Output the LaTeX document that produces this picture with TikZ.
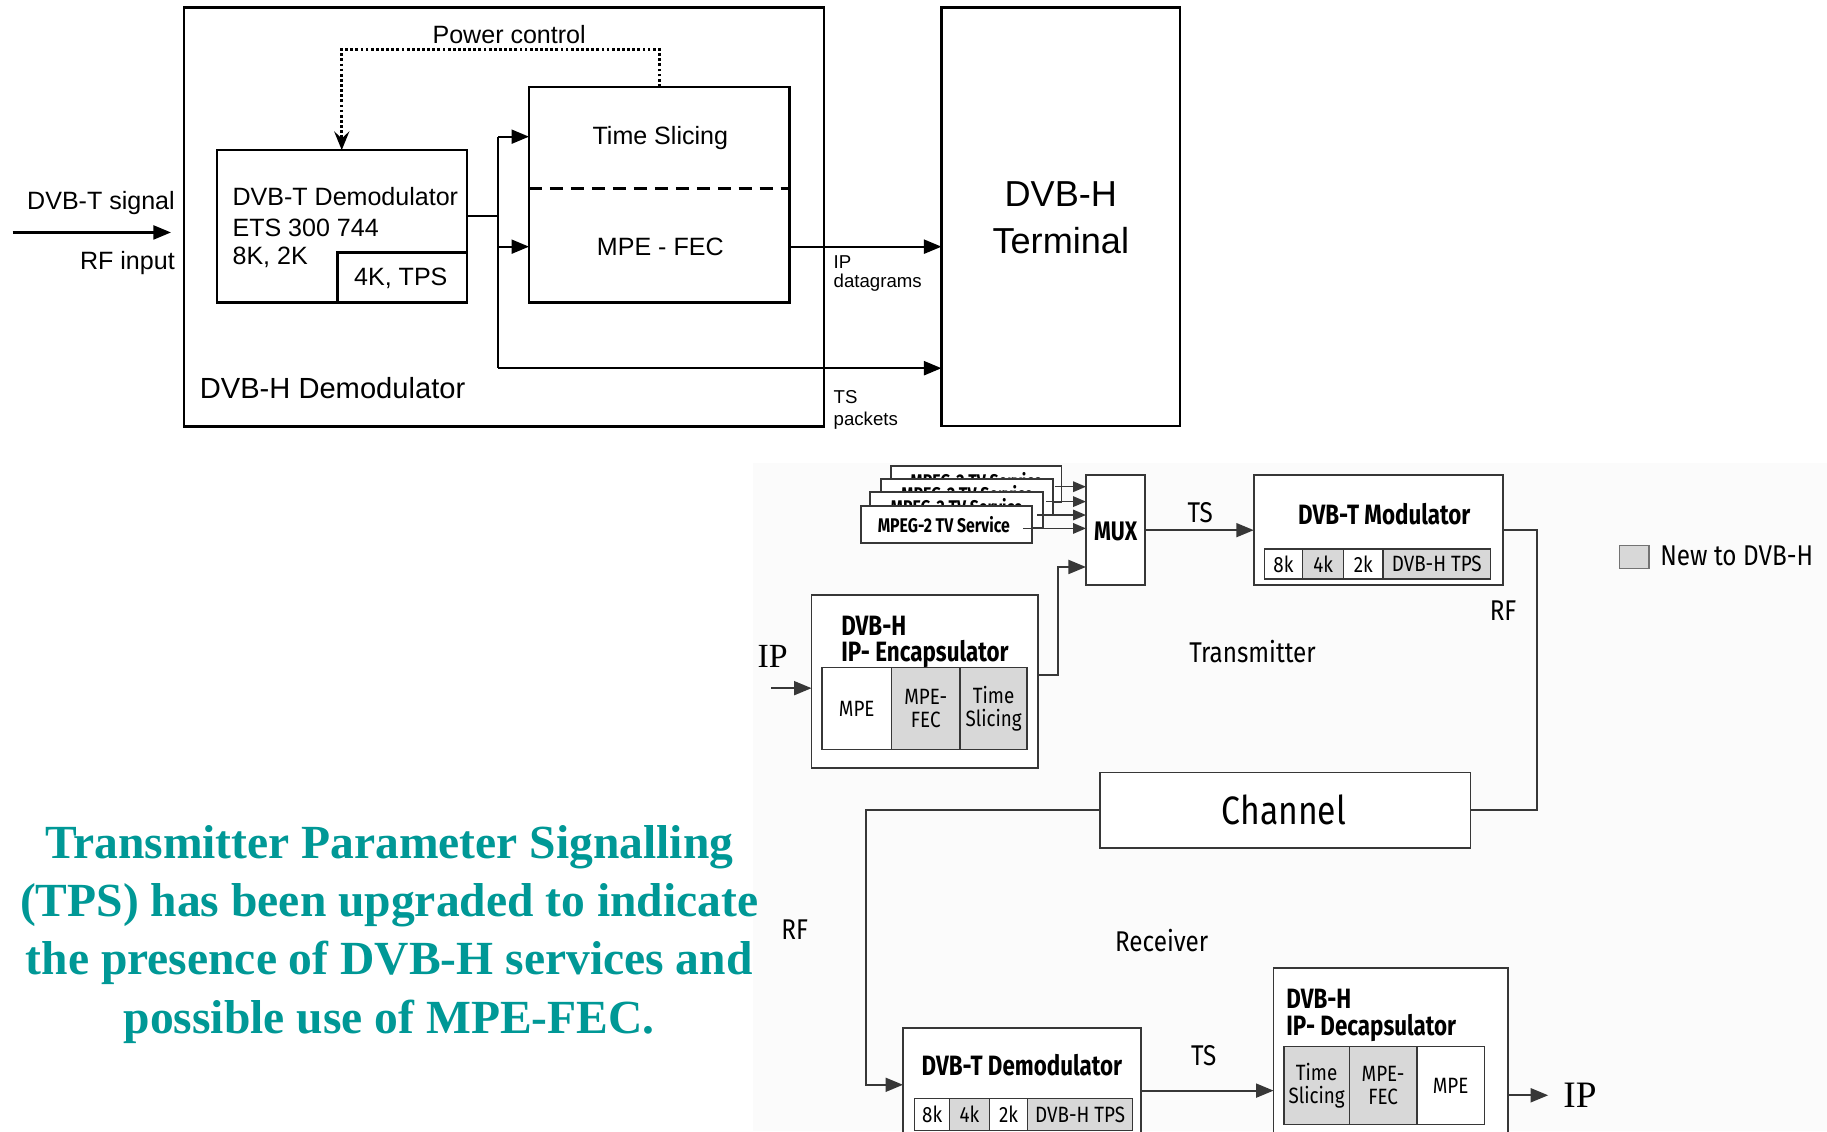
\documentclass[tikz,border=0pt]{standalone}
\usepackage{fontspec}
\setmainfont{Liberation Sans}
\newfontfamily\nokr[FakeStretch=0.85]{Fira Sans}
\newfontfamily\nokb[FakeStretch=0.8]{Fira Sans}
\newfontfamily\ipserif{Liberation Serif}
\usetikzlibrary{arrows.meta,fit,calc}
\definecolor{tpsteal}{RGB}{0,152,150}
\definecolor{bgpale}{RGB}{251,251,251}
\definecolor{cellgray}{RGB}{216,216,216}
\definecolor{lowline}{RGB}{55,55,55}
\begin{document}
\begin{tikzpicture}[x=1pt,y=-1pt,
  every node/.style={inner sep=0pt, outer sep=0pt},
  tline/.style={line width=1.8pt},
  tbox/.style={draw, line width=2pt},
  tarr/.style={tline, -{Triangle[length=15pt,width=12pt]}},
  ttext/.style={font=\fontsize{21.5}{26}\selectfont},
  tsmall/.style={font=\fontsize{16}{19}\selectfont},
  lline/.style={draw=lowline, line width=1.6pt},
  larr/.style={lline, -{Triangle[length=15pt,width=12pt]}},
  sarr/.style={lline, line width=1.3pt, -{Triangle[length=11pt,width=9pt]}},
  lbox/.style={draw=lowline, line width=1.6pt, fill=white},
  cellw/.style={draw=lowline, line width=1.2pt, fill=white},
  cellg/.style={draw=lowline, line width=1.2pt, fill=cellgray},
  ctext/.style={font=\nokr\fontsize{19}{20}\selectfont, align=center},
  ltitle/.style={font=\nokb\bfseries\fontsize{24}{27}\selectfont},
  lreg/.style={font=\nokr\fontsize{24.5}{28}\selectfont},
  mpegf/.style={font=\nokb\bfseries\fontsize{17}{19}\selectfont},
  tpsf/.style={font=\ipserif\bfseries\fontsize{40.8}{50}\selectfont, text=tpsteal},
]
\useasboundingbox (0,0) rectangle (1568,971);
\clip (0,0) rectangle (1568,971);
\fill[white] (0,0) rectangle (1568,971);
\fill[bgpale] (646,397) rectangle (1568,971);

% ---------------- top diagram ----------------
\node[tbox, fit={(157.7,6.3) (707,366)}] (outer) {};
\node[tbox, fit={(186,128.8) (400.6,259.5)}] (demod) {};
\node[tbox, fit={(289.7,216.6) (400.6,259.5)}] (tpsk) {};
\node[ttext] (tpskt) at (344,238.5) {4K, TPS};
\node[ttext, anchor=west] (dt1) at (199.6,168.8) {DVB-T Demodulator};
\node[ttext, anchor=west] (dt2) at (199.6,195.4) {ETS 300 744};
\node[ttext, anchor=west] (dt3) at (199.6,221.2) {8K, 2K};
\node[tbox, fit={(454,74.4) (677.5,259.5)}] (tsl) {};
\node[ttext] (tslt) at (566.7,118.7) {Time Slicing};
\node[ttext] (mfec) at (566.7,211.7) {MPE - FEC};
\draw[line width=2.2pt, dash pattern=on 11pt off 7pt] (tsl.west |- 0,161.6) -- (tsl.east |- 0,161.6);
\node[tbox, fit={(808,6.3) (1012.8,365.6)}] (term) {};
\node[font=\fontsize{31}{40}\selectfont, align=center] (termt) at (910.4,187) {DVB-H\\Terminal};

\draw[line width=2.4pt, dash pattern=on 2.4pt off 2pt, -{Stealth[length=16pt,width=13pt,inset=6pt]}]
  (tsl.north) -- (tsl.north |- 0,42.3) -| (demod.north);
\node[ttext] (pc) at (437,30) {Power control};

\coordinate (j1) at (427.6,185.4);
\coordinate (jt) at (427.6,117.3);
\coordinate (jm) at (427.6,211.7);
\coordinate (jb) at (427.6,316);
\draw[tline] (demod.east |- j1) -- (j1);
\draw[tline] (jt) -- (jb);
\draw[tarr] (jt) -- (tsl.west |- jt);
\draw[tarr] (jm) -- (tsl.west |- jm);
\draw[tarr] (jb) -- (term.west |- jb);
\draw[tarr] (tsl.east |- mfec) -- (term.west |- mfec);

\coordinate (rfin) at (10.8,199.5);
\draw[tarr, shorten >=11pt] (rfin) -- (outer.west |- rfin);
\node[ttext, anchor=east] (sig) at (150,174.5) {DVB-T signal};
\node[ttext, anchor=east] (rfi) at (150,226) {RF input};
\node[tsmall, anchor=west] (ipl) at (715.5,224.6) {IP};
\node[tsmall, anchor=west] (dgl) at (715.5,243) {datagrams};
\node[tsmall, anchor=west] (tsl1) at (715.5,341) {TS};
\node[tsmall, anchor=west] (tsl2) at (715.5,361) {packets};
\node[font=\fontsize{25}{30}\selectfont, anchor=west] (dhd) at (171.5,333) {DVB-H Demodulator};

% ---------------- lower diagram ----------------
\node[lbox, fit={(932,408) (983,502)}] (mux) {};
\node[font=\nokb\bfseries\fontsize{23}{26}\selectfont] (muxt) at (957.5,456) {MUX};

\node[lbox, fit={(765,400) (911,431)}] (mp4) {};
\node[mpegf] (mp4t) at (838,412.5) {MPEG-2 TV Service};
\node[lbox, fit={(756,411) (904,442)}] (mp3) {};
\node[mpegf] (mp3t) at (830,423.5) {MPEG-2 TV Service};
\node[lbox, fit={(747,422) (895,453)}] (mp2) {};
\node[mpegf] (mp2t) at (821,435) {MPEG-2 TV Service};
\node[lbox, fit={(739,434) (886,466)}] (mp1) {};
\node[mpegf] (mp1t) at (810,450) {MPEG-2 TV Service};
\coordinate (s4) at (905,417.7);
\coordinate (s3) at (898,430.5);
\coordinate (s2) at (890,442);
\coordinate (s1) at (878,453.5);
\draw[sarr] (s4) -- (mux.west |- s4);
\draw[sarr] (s3) -- (mux.west |- s3);
\draw[sarr] (s2) -- (mux.west |- s2);
\draw[sarr] (s1) -- (mux.west |- s1);

\node[lbox, fit={(1076,408) (1290,502)}] (mod) {};
\node[ltitle] (modt) at (1188,441) {DVB-T Modulator};
\node[cellw, fit={(1085,471) (1118,497)}] (m8) {};
\node[cellg, fit={(1118,471) (1153,497)}] (m4) {};
\node[cellw, fit={(1153,471) (1187,497)}] (m2) {};
\node[cellg, fit={(1187,471) (1279,497)}] (mt) {};
\node[ctext] (m8t) at (m8.center) {8k};
\node[ctext] (m4t) at (m4.center) {4k};
\node[ctext] (m2t) at (m2.center) {2k};
\node[ctext] (mtt) at (mt.center) {DVB-H TPS};
\draw[larr] (mux.east) -- (mod.west);
\node[lreg] (tsa) at (1030,440) {TS};

\node[lbox, fit={(944,663) (1262,728)}] (chan) {};
\node[font=\nokr\fontsize{34}{36}\selectfont] (chant) at (1102,695) {Channel};
\coordinate (rf1) at (1319,600);
\draw[lline] (mod.east) -| (rf1) |- (chan.east);
\node[lreg] (rfa) at (1290,524) {RF};

\node[draw=black!55, line width=1.3pt, fill=cellgray, fit={(1390,468) (1415,488)}] (leg) {};
\node[lreg, anchor=west] (legt) at (1425,477) {New to DVB-H};
\node[lreg] (trx) at (1075,559) {Transmitter};

% encapsulator
\node[lbox, fit={(696.5,511) (891,659)}] (enc) {};
\node[ltitle, anchor=base west] (enct1) at (722,545) {DVB-H};
\node[ltitle, anchor=base west] (enct2) at (722,567.5) {IP- Encapsulator};
\node[cellw, fit={(705.5,573) (765,643.5)}] (e1c) {};
\node[cellg, fit={(765,573) (824,643.5)}] (e2c) {};
\node[cellg, fit={(824,573) (881.5,643.5)}] (e3c) {};
\node[ctext] (e1t) at (e1c.center) {MPE};
\node[ctext] (e2t) at (e2c.center) {MPE-\\FEC};
\node[ctext] (e3t) at (e3c.center) {Time\\Slicing};
\node[font=\ipserif\fontsize{29}{31}\selectfont] (ipin) at (663,563) {IP};
\coordinate (ipa) at (662,590.6);
\draw[larr] (ipa) -- (enc.west |- ipa);
\coordinate (ea) at (908,579.5);
\coordinate (eb) at (908,486.6);
\draw[larr] (enc.east |- ea) -- (ea) -- (eb) -- (mux.west |- eb);

% receiver
\node[lbox, fit={(775,882) (979,990)}] (dmod) {};
\node[ltitle] (dmodt) at (877,914) {DVB-T Demodulator};
\node[cellw, fit={(785,943) (815,970)}] (d8) {};
\node[cellg, fit={(815,943) (849,970)}] (d4) {};
\node[cellw, fit={(849,943) (882,970)}] (d2) {};
\node[cellg, fit={(882,943) (972,970)}] (dt) {};
\node[ctext] (d8t) at (d8.center) {8k};
\node[ctext] (d4t) at (d4.center) {4k};
\node[ctext] (d2t) at (d2.center) {2k};
\node[ctext] (dtt) at (dt.center) {DVB-H TPS};
\coordinate (rf2) at (743,800);
\draw[larr] (chan.west) -| (rf2) |- ([yshift=5pt]dmod.west);
\node[lreg] (rfb) at (682,798) {RF};
\node[lreg] (rcv) at (997,807) {Receiver};

\node[lbox, fit={(1093,831) (1294,990)}] (decap) {};
\node[ltitle, anchor=base west] (dect1) at (1104,865.5) {DVB-H};
\node[ltitle, anchor=base west] (dect2) at (1104,888.5) {IP- Decapsulator};
\node[cellg, fit={(1102,898) (1158,965)}] (c1c) {};
\node[cellg, fit={(1158,898) (1216,965)}] (c2c) {};
\node[cellw, fit={(1216,898) (1274,965)}] (c3c) {};
\node[ctext] (c1t) at (c1c.center) {Time\\Slicing};
\node[ctext] (c2t) at (c2c.center) {MPE-\\FEC};
\node[ctext] (c3t) at (c3c.center) {MPE};
\coordinate (da) at (979,936);
\draw[larr] (dmod.east |- da) -- (decap.west |- da);
\node[lreg] (tsb) at (1033,906) {TS};
\node[font=\ipserif\fontsize{32}{34}\selectfont, anchor=west] (ipout) at (1341.7,940) {IP};
\draw[larr, shorten >=13pt] (decap.east |- ipout) -- (ipout.west);

% teal text
\node[tpsf, anchor=base] (tp1) at (334,736.7) {Transmitter Parameter Signalling};
\node[tpsf, anchor=base] (tp2) at (334,786.7) {(TPS) has been upgraded to indicate};
\node[tpsf, anchor=base] (tp3) at (334,836.7) {the presence of DVB-H services and};
\node[tpsf, anchor=base] (tp4) at (334,886.7) {possible use of MPE-FEC.};
\end{tikzpicture}
\end{document}
